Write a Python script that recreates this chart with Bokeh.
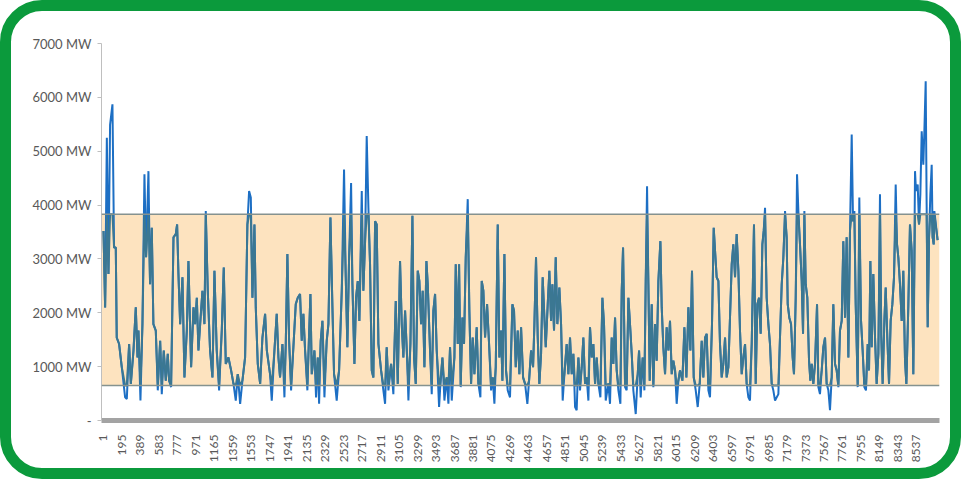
import numpy as np
from bokeh.plotting import figure
from bokeh.models import FixedTicker, BoxAnnotation, Span, Range1d
from bokeh.embed import file_html
from bokeh.resources import INLINE

# ---- data (hour of year, MW) ----
hours_a = [1,18,36,53,70,95,112,130,140,165,193,228,246,270,288,316,340,358,368,389,
           410,431,448,473,490,508,525,550,571,596,613,634,655,676,690,711,736,760,774,788,
           806,830,851,876,893,921,946,963,981,998,1016,1040,1061,1075,1096,1120,1145,1166,1190,1215,
           1243,1264,1285,1313,1341,1366,1390,1411,1436,1460,1488,1512,1530,1548,1565,1586,1600,1621,1646,1670,
           1698,1716]
mw_a = [3520,2100,5250,2720,5490,5870,3210,3210,1540,1420,990,430,400,1420,680,1300,2100,1170,1670,370,
        1790,4570,3030,4630,2530,3580,1790,1670,560,1480,490,1300,740,1240,740,620,3400,3460,3640,2720,
        1790,2660,800,1670,2960,990,2100,1790,2280,1300,1790,2410,1790,3890,2410,1300,800,2780,1300,560,
        1670,2840,1050,1170,930,680,370,860,310,740,1170,3640,4260,4140,2280,3640,2100,1050,680,1540,
        1980,1300]

hours_b = [1750,1768,1796,1820,1838,1855,1880,1901,1915,1932,1950,1971,1995,2020,2041,2065,2083,2100,2118,2142,
           2160,2174,2188,2216,2233,2251,2265,2282,2300,2321,2345,2363,2384,2405,2422,2450,2475,2503,2527,2545,
           2562,2580,2601,2615,2636,2653,2671,2688,2713,2730,2748,2765,2783,2800,2818,2835,2853,2870,2888,2916,
           2940,2958,2975,2993,3021,3045,3070,3091,3115,3133,3150,3168,3189,3203,3224,3245,3262,3280,3301,3318,
           3336,3353,3371,3392,3406,3430,3448,3465,3483,3500,3525]
mw_b = [860,370,1300,1980,1170,800,1420,430,1420,3090,1480,560,1360,2160,2280,2350,1480,1980,1300,560,
        1610,2350,860,1300,430,1170,310,1480,1850,430,1480,1790,3770,2100,860,370,930,2410,4660,2660,
        1360,3030,4410,2530,1050,2280,2590,1850,4260,2410,3330,5280,3950,2900,930,800,3700,3640,1420,930,
        560,310,1360,560,1050,490,2220,680,2960,1790,1170,2040,1170,370,1420,3800,1170,680,2780,2590,
        1790,2410,990,2960,2530,1300,490,2040,2350,1300,250]

hours_c = [3535,3560,3581,3605,3623,3640,3658,3686,3700,3721,3735,3752,3770,3787,3805,3826,3843,3861,3878,3896,
           3920,3938,3959,3973,3990,4008,4029,4050,4071,4088,4106,4120,4141,4158,4176,4190,4211,4228,4246,4270,
           4295,4312,4330,4351,4368,4386,4407,4428,4452,4470,4491,4512,4526,4543,4561,4578,4596,4613,4631,4645,
           4666,4683,4701,4715,4732,4750,4767,4788,4806,4823,4841,4865,4883,4900,4918,4935,4953,4970,4988,5005,
           5023,5040,5058,5075,5093,5110,5128,5145,5163,5180,5198,5219,5240,5257,5275]
mw_c = [560,1170,370,800,310,1360,370,1170,2900,1420,2900,620,1910,1420,3030,4110,2040,680,1540,860,
        1730,680,430,2590,2410,1540,2160,1420,560,800,310,990,3640,1170,1670,740,3090,930,560,430,
        2160,2040,990,1670,860,1730,800,680,310,740,1300,990,1790,3030,1540,680,1240,2660,1910,1360,
        2160,2780,1850,2530,1670,3030,1790,2470,1790,370,860,1420,860,1540,860,1240,250,190,1170,560,
        990,1540,680,800,370,1730,1170,1420,680,1170,680,430,2280,1790,370]

hours_d = [5303,5320,5338,5355,5373,5390,5408,5429,5443,5457,5478,5495,5513,5530,5548,5565,5590,5611,5625,5642,
           5663,5681,5695,5709,5723,5737,5758,5775,5793,5810,5828,5849,5863,5880,5898,5915,5933,5950,5968,5985,
           6003,6020,6038,6055,6080,6101,6122,6143,6164,6181,6199,6220,6241,6262,6283,6300,6318,6335,6353,6370,
           6391,6409,6423,6440,6458,6475,6493,6510,6528,6545,6563,6580,6598,6615,6633,6650,6668,6685,6703,6720,
           6738,6755,6773,6790,6808,6832,6850,6867,6885,6902,6920,6934,6948,6965,6983,7000,7018,7035,7053]
mw_d = [680,310,1540,1050,1910,930,560,310,2410,3210,620,560,2280,1790,1240,560,120,860,1300,430,
        1170,560,2590,4350,2530,740,2160,620,1790,1110,2590,3330,2100,1360,860,1730,1300,1850,860,1110,
        930,310,740,930,740,1730,800,2100,1300,2780,800,560,250,680,1480,800,1540,1610,560,430,
        1790,3580,3150,2660,2590,1420,800,1050,1540,800,990,1910,2900,3270,2660,3460,2780,1670,860,1170,
        1420,680,430,370,1420,3640,680,2160,2280,1610,3270,3520,3950,2280,1790,1420,680,560,370]

hours_e = [7088,7105,7123,7140,7158,7175,7186,7203,7221,7238,7252,7270,7284,7298,7315,7333,7347,7361,7375,7392,
           7410,7424,7438,7455,7473,7494,7508,7525,7543,7560,7578,7595,7613,7630,7648,7665,7683,7700,7718,7735,
           7753,7770,7788,7805,7823,7840,7858,7872,7886,7900,7921,7938,7956,7973,7991,8008,8026,8040,8054,8068,
           8085,8103,8120,8138,8155,8169,8183,8201,8215,8232,8250,8267,8285,8302,8320,8334,8348,8365,8383,8400,
           8418,8432,8453,8470,8488,8505,8523,8533,8551,8565,8579,8593,8610,8621,8635,8645,8656,8670,8684,8698,
           8708,8719,8726,8760]
mw_e = [490,1540,2530,3020,3890,3400,2160,1910,1790,1170,860,2280,4570,3890,3270,2590,1610,3890,2530,2280,
        1110,740,1050,680,1050,2160,620,490,930,1360,1540,680,560,190,800,2160,1050,930,620,1670,
        1850,3330,1910,3400,1170,3520,5310,3700,3890,2160,620,4140,1850,1300,620,560,1420,930,2960,1360,
        2720,1540,680,1240,4200,1540,680,1850,2470,1540,680,1850,2160,2650,4380,3270,3020,2530,1850,2780,
        1110,680,2160,3640,3150,860,4630,4260,4380,3640,4200,5370,4750,5370,6300,4010,1730,3400,4200,4750,
        3400,3270,3890,3350]

band_low = 650
band_high = 3830

x_tick_labels = ["1","195","389","583","777","971","1165","1359","1553","1747","1941","2135","2329",
                 "2523","2717","2911","3105","3299","3493","3687","3881","4075","4269","4463","4657",
                 "4851","5045","5239","5433","5627","5821","6015","6209","6403","6597","6791","6985",
                 "7179","7373","7567","7761","7955","8149","8343","8537"]
y_ticks = [0, 1000, 2000, 3000, 4000, 5000, 6000, 7000]
y_tick_labels = ["-", "1000 MW", "2000 MW", "3000 MW", "4000 MW", "5000 MW", "6000 MW", "7000 MW"]

hours = np.array(hours_a + hours_b + hours_c + hours_d + hours_e, dtype=float)
mw = np.array(mw_a + mw_b + mw_c + mw_d + mw_e, dtype=float)

W, H, B = 961, 479, 11
p = figure(width=W, height=H, output_backend="svg", toolbar_location=None,
           x_range=Range1d(-20, 8780), y_range=Range1d(0, 7000),
           min_border_left=90, min_border_right=33, min_border_top=32, min_border_bottom=70)
p.styles = {"border": f"{B}px solid #0b9a3c", "border-radius": "42px"}
p.border_fill_alpha = 0
p.background_fill_color = "white"
p.outline_line_color = None
p.grid.visible = False

band = BoxAnnotation(bottom=band_low, top=band_high, fill_color="#fde3bf", fill_alpha=1.0,
                     line_color=None, level="underlay")
p.add_layout(band)

p.line(hours, mw, line_color="#1d6fc4", line_width=2)
p.line(hours, np.clip(mw, band_low, band_high), line_color="#3b7792", line_width=2)

for loc in (band_low, band_high):
    p.add_layout(Span(location=loc, dimension="width", line_color="#85928f", line_width=1.4))

lab_font = "Lato"
p.xaxis.ticker = FixedTicker(ticks=[int(t) for t in x_tick_labels])
p.xaxis.major_label_overrides = {int(t): t for t in x_tick_labels}
p.xaxis.major_label_orientation = np.pi / 2
p.xaxis.axis_line_width = 5
p.xaxis.axis_line_color = "#a3a3a3"
p.xaxis.major_tick_line_color = None
p.xaxis.minor_tick_line_color = None
p.xaxis.major_label_standoff = 8
p.xaxis.major_label_text_font = lab_font
p.xaxis.major_label_text_font_size = "12px"
p.xaxis.major_label_text_color = "#595959"

p.yaxis.ticker = FixedTicker(ticks=y_ticks)
p.yaxis.major_label_overrides = {t: l for t, l in zip(y_ticks, y_tick_labels)}
p.yaxis.axis_line_color = "#bfbfbf"
p.yaxis.major_tick_line_color = "#bfbfbf"
p.yaxis.major_tick_in = 0
p.yaxis.major_tick_out = 4
p.yaxis.minor_tick_line_color = None
p.yaxis.major_label_standoff = 6
p.yaxis.major_label_text_font = lab_font
p.yaxis.major_label_text_font_size = "13px"
p.yaxis.major_label_text_color = "#595959"

open("out.html", "w").write(file_html(p, INLINE))
